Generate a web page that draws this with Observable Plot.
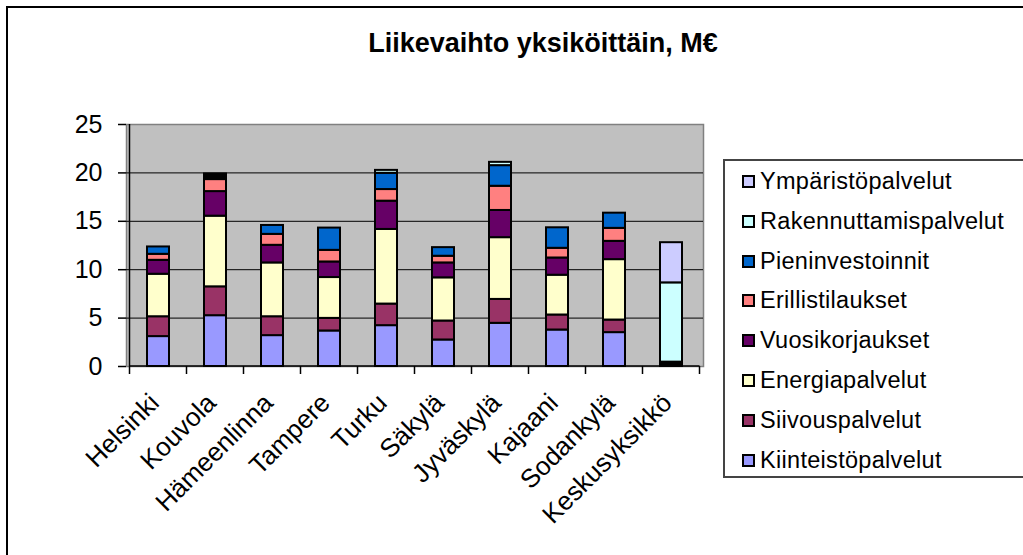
<!DOCTYPE html>
<html>
<head>
<meta charset="utf-8">
<script src="https://cdn.jsdelivr.net/npm/d3@7"></script>
<script src="https://cdn.jsdelivr.net/npm/@observablehq/plot@0.6"></script>
<style>
  html, body { margin: 0; padding: 0; background: #fff; }
  #wrap { position: relative; width: 1023px; height: 555px; overflow: hidden; font-family: "Liberation Sans", Arial, sans-serif; }
  #outer { position: absolute; left: 6px; top: 6px; width: 1100px; height: 700px; border: 2px solid #000; box-sizing: border-box; }
  #chart { position: absolute; left: 0; top: 0; }
  #title { position: absolute; left: 543px; top: 30px; transform: translateX(-50%); font-weight: bold; font-size: 27px; line-height: 27px; white-space: nowrap; color: #000; }
  #legend { position: absolute; left: 723px; top: 159px; width: 400px; height: 319px; border: 2px solid #444; box-sizing: border-box; background: #fff; }
  .item { position: absolute; left: 17px; height: 24px; white-space: nowrap; font-size: 23.5px; line-height: 24px; color: #000; letter-spacing: 0.3px; }
  .sw { position: absolute; left: 0; top: 6px; width: 13px; height: 13px; border: 2px solid #000; box-sizing: border-box; }
  .lbl { position: absolute; left: 18px; top: 0; }
</style>
</head>
<body>
<div id="wrap">
  <div id="outer"></div>
  <div id="chart"></div>
  <div id="title">Liikevaihto yksiköittäin, M€</div>
  <div id="legend"></div>
</div>
<script>
const categories = ["Helsinki","Kouvola","Hämeenlinna","Tampere","Turku","Säkylä","Jyväskylä","Kajaani","Sodankylä","Keskusyksikkö"];
const seriesNames = ["Kiinteistöpalvelut","Siivouspalvelut","Energiapalvelut","Vuosikorjaukset","Erillistilaukset","Pieninvestoinnit","Rakennuttamispalvelut","Ympäristöpalvelut"];
const kiinteisto       = [3.09, 5.25, 3.19, 3.67, 4.22, 2.74, 4.46, 3.77, 3.50, 0.15];
const siivous          = [2.05, 2.98, 1.95, 1.30, 2.23, 1.96, 2.47, 1.55, 1.30, 0.10];
const energia          = [4.39, 7.30, 5.56, 4.22, 7.71, 4.46, 6.38, 4.11, 6.24, 0.10];
const vuosikorjaukset  = [1.44, 2.54, 1.82, 1.61, 2.92, 1.54, 2.81, 1.78, 1.89, 0.05];
const erillistilaukset = [0.62, 1.24, 1.13, 1.20, 1.20, 0.69, 2.50, 1.00, 1.34, 0.05];
const pieninvestoinnit = [0.76, 0.20, 0.92, 2.30, 1.68, 0.89, 2.13, 2.12, 1.57, 0];
const rakennuttamis    = [0,    0.20, 0,    0,    0.30, 0,    0.34, 0,    0,    8.19];
const ymparisto        = [0,    0.18, 0,    0,    0,    0,    0,    0,    0,    4.15];
const seriesColors = ["#9999FF","#993366","#FFFFCC","#660066","#FF8080","#0066CC","#CCFFFF","#CCCCFF"];
const yTicks = [0, 5, 10, 15, 20, 25];

const seriesValues = [kiinteisto, siivous, energia, vuosikorjaukset, erillistilaukset, pieninvestoinnit, rakennuttamis, ymparisto];
const rows = [];
seriesNames.forEach((s, si) => {
  categories.forEach((c, ci) => {
    const v = seriesValues[si][ci];
    if (v > 0) rows.push({category: c, series: s, value: v});
  });
});

const padInner = 0.62;

function axisFrame(index, scales, values, dimensions) {
  const x = scales.x, y = scales.y;
  const step = x(categories[1]) - x(categories[0]);
  const bw = typeof x.bandwidth === "function" ? x.bandwidth() : step * (1 - padInner);
  const g = d3.create("svg:g");
  const y0 = y(0), yTop = y(25);
  const left = x(categories[0]) + bw / 2 - step / 2;
  g.append("line").attr("x1", left).attr("x2", left).attr("y1", yTop).attr("y2", y0)
    .attr("stroke", "#000").attr("stroke-width", 1.5);
  const bounds = categories.map(c => x(c) + bw / 2 - step / 2);
  bounds.push(x(categories[categories.length - 1]) + bw / 2 + step / 2);
  bounds.forEach(b => {
    g.append("line").attr("x1", b).attr("x2", b).attr("y1", y0).attr("y2", y0 + 8)
      .attr("stroke", "#000").attr("stroke-width", 1.5);
  });
  g.append("line").attr("x1", left).attr("x2", bounds[bounds.length - 1]).attr("y1", y0).attr("y2", y0)
    .attr("stroke", "#000").attr("stroke-width", 1.5);
  return g.node();
}

const plot = Plot.plot({
  width: 1023,
  height: 555,
  marginLeft: 126,
  marginRight: 320,
  marginTop: 124,
  marginBottom: 189,
  style: {fontFamily: "'Liberation Sans', Arial, sans-serif", background: "transparent", color: "#000"},
  x: {domain: categories, paddingInner: padInner, paddingOuter: padInner / 2, axis: null},
  y: {domain: [0, 25], axis: null},
  color: {domain: seriesNames, range: seriesColors},
  marks: [
    Plot.frame({fill: "#C0C0C0", stroke: "#808080", strokeWidth: 1.5}),
    Plot.gridY([5, 10, 15, 20], {stroke: "#000", strokeOpacity: 1, strokeWidth: 1}),
    Plot.barY(rows, Plot.stackY({
      x: "category", y: "value", fill: "series", z: "series",
      order: seriesNames,
      stroke: "#000", strokeWidth: 2
    })),
    Plot.axisY(yTicks, {tickSize: 8, tickPadding: 16, fontSize: 25, stroke: "#000", strokeWidth: 1.5, label: null}),
    axisFrame,
    Plot.text(categories, {
      x: d => d, frameAnchor: "bottom", rotate: -45, textAnchor: "end",
      dy: 38, dx: 2, fontSize: 26, fill: "#000"
    })
  ]
});
document.getElementById("chart").appendChild(plot);

const legend = document.getElementById("legend");
const order = seriesNames.map((s, i) => i).reverse();
order.forEach((si, k) => {
  const item = document.createElement("div");
  item.className = "item";
  item.style.top = (8 + k * 39.8) + "px";
  const sw = document.createElement("div");
  sw.className = "sw";
  sw.style.background = seriesColors[si];
  const lbl = document.createElement("span");
  lbl.className = "lbl";
  lbl.textContent = seriesNames[si];
  item.appendChild(sw);
  item.appendChild(lbl);
  legend.appendChild(item);
});
</script>
</body>
</html>
